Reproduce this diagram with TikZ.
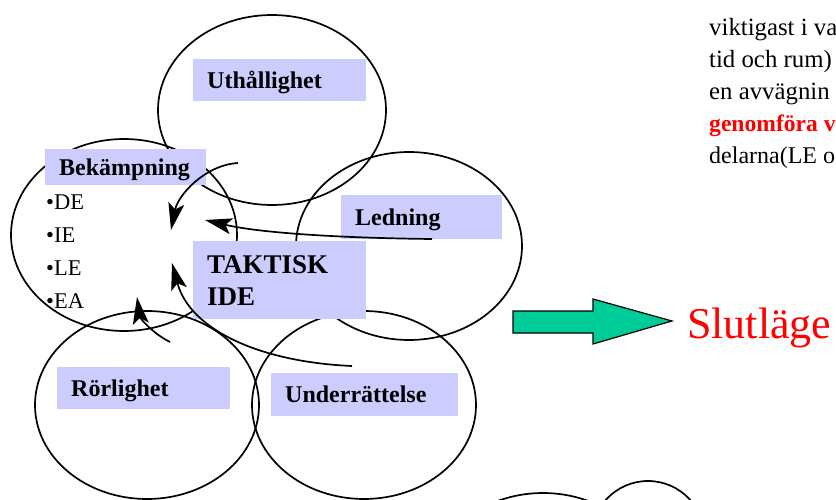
\documentclass[tikz,border=0pt]{standalone}
\usepackage{fontspec}
\setmainfont{Liberation Serif}
\usetikzlibrary{arrows.meta}
\definecolor{lav}{HTML}{CCCCFF}
\definecolor{arrowgreen}{HTML}{00CC99}
\begin{document}
\begin{tikzpicture}[x=1pt,y=-1pt,
  ring/.style={draw=black, line width=1.7pt},
  lboxbase/.style={fill=lav, anchor=north west, inner xsep=14pt, inner ysep=0pt, align=left},
  lbox/.style={lboxbase, font=\bfseries\fontsize{24}{28}\selectfont, text height=20pt, text depth=4pt},
  bullet/.style={anchor=base west, inner sep=0pt, font=\fontsize{22.5}{26}\selectfont},
  sidetext/.style={anchor=base west, inner sep=0pt, font=\fontsize{24.8}{28}\selectfont},
  flow/.style={draw=black, line width=1.7pt, -{Stealth[length=27pt,width=16pt,inset=6pt]}}]
\useasboundingbox (0,0) rectangle (836,500);
\clip (0,0) rectangle (836,500);

% ellipses
\draw[ring] (272,110) ellipse [x radius=114pt, y radius=95pt];
\draw[ring] (124,235) ellipse [x radius=113pt, y radius=96pt];
\draw[ring] (409,246) ellipse [x radius=113pt, y radius=94pt];
\draw[ring] (147,405) ellipse [x radius=112pt, y radius=94pt];
\draw[ring] (364,405) ellipse [x radius=112pt, y radius=94pt];
\draw[ring] (543,587) ellipse [x radius=112pt, y radius=94pt];
\draw[ring] (648,541) ellipse [x radius=58pt, y radius=60pt];

% label boxes
\node[lbox, text width=145pt, minimum height=42pt] (uth) at (193,59) {Uthållighet};
\node[lbox, text width=133pt, minimum height=36pt] (bek) at (45,149) {Bekämpning};
\node[lbox, text width=133pt, minimum height=44pt] (led) at (341,195) {Ledning};
\node[lboxbase, text width=145pt, minimum height=78pt, font=\bfseries\fontsize{27}{32}\selectfont] (tak) at (193,241) {TAKTISK\\IDE};
\node[lbox, text width=145pt, minimum height=42pt] (ror) at (57,367) {Rörlighet};
\node[lbox, text width=159pt, minimum height=43pt] (und) at (271,373) {Underrättelse};

% bullet list
\node[bullet] (de) at (46,209) {•DE};
\node[bullet] (ie) at (46,242) {•IE};
\node[bullet] (le) at (46,275) {•LE};
\node[bullet] (ea) at (46,308) {•EA};

% arrow endpoints
\coordinate (a1s) at (238,163);
\coordinate (a1e) at (171,230);
\coordinate (a2s) at (432,239);
\coordinate (a2e) at (205,220);
\coordinate (a3s) at (352,366);
\coordinate (a3e) at (172,263);
\coordinate (a4s) at (170,342);
\coordinate (a4e) at (137,297);

\draw[flow] (a1s) .. controls (205,165) and (178,195) .. (a1e);
\draw[flow] (a2s) .. controls (340,238) and (260,233) .. (a2e);
\draw[flow] (a3s) .. controls (260,362) and (190,330) .. (a3e);
\draw[flow] (a4s) .. controls (152,333) and (140,318) .. (a4e);

% side text (a fragment that runs to the right edge)
\node[sidetext] (t1) at (709,36) {viktigast i va};
\node[sidetext] (t2) at (709,68) {tid och rum)};
\node[sidetext] (t3) at (709,100) {en avvägnin};
\node[sidetext, text=red, font=\bfseries\fontsize{23.6}{28}\selectfont] (t4) at (709,132) {genomföra v};
\node[sidetext, font=\fontsize{24}{28}\selectfont] (t5) at (709,164) {delarna(LE o};

% big arrow and end state
\draw[fill=arrowgreen, draw=black, line width=1.2pt, line join=miter]
  (513,311) -- (593,311) -- (593,299) -- (672,321) -- (593,344) -- (593,333) -- (513,333) -- cycle;
\node[anchor=base west, inner sep=0pt, text=red, font=\fontsize{44}{50}\selectfont] (slut) at (687,338) {Slutläge};
\end{tikzpicture}
\end{document}
